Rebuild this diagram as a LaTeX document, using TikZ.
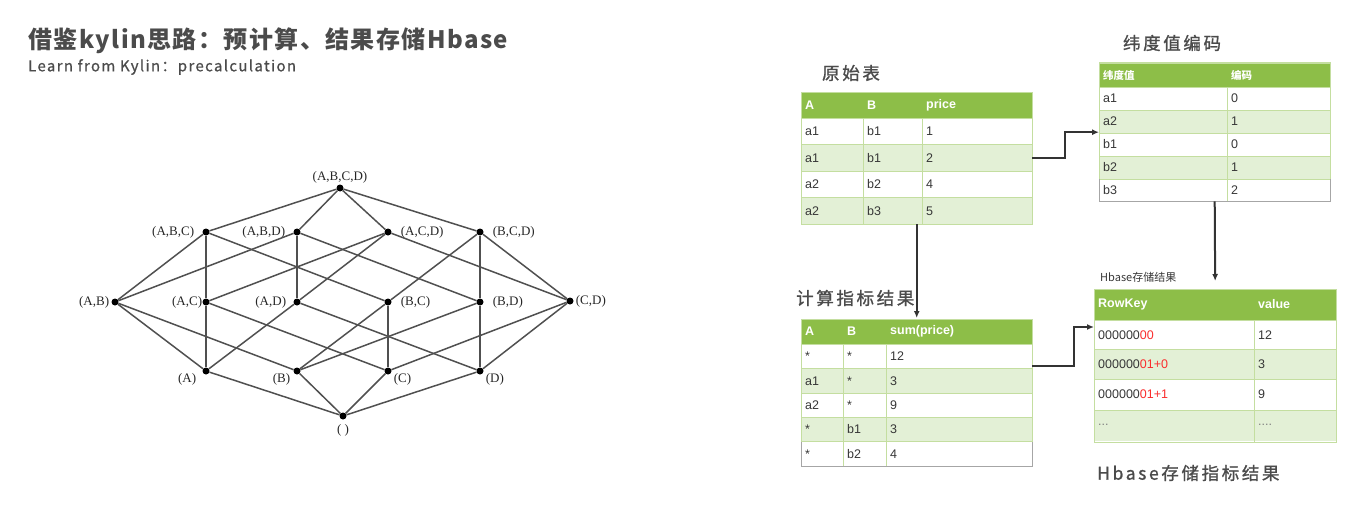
\documentclass[tikz,border=0pt]{standalone}
\usepackage{fontspec}
\setmainfont{Liberation Sans}
\newfontfamily\cjk{Noto Sans CJK SC}
\newfontfamily\latserif{Liberation Serif}
\usetikzlibrary{arrows.meta}

\definecolor{hdrgreen}{RGB}{141,190,72}
\definecolor{rowgreen}{RGB}{227,240,214}
\definecolor{gridgreen}{RGB}{196,222,160}
\definecolor{txtgray}{RGB}{55,55,55}
\definecolor{titlegray}{RGB}{75,75,75}
\definecolor{keyred}{RGB}{250,45,45}
\definecolor{edgegray}{RGB}{80,80,80}

\tikzset{
  lat/.style={circle, fill=black, inner sep=0pt, minimum size=7pt},
  latlbl/.style={font=\latserif\fontsize{13}{13}\selectfont, text=black!85, inner sep=0pt},
  latedge/.style={draw=edgegray, line width=1.5pt},
  tbl/.style={inner sep=0pt, anchor=north west},
  cell/.style={anchor=west, inner sep=0pt, font=\fontsize{12.5}{13}\selectfont, text=txtgray},
  hcell/.style={cell, text=white, font=\bfseries\fontsize{12.5}{13}\selectfont},
  grid/.style={draw=gridgreen, line width=1pt},
  flow/.style={draw=black!80, line width=2pt, -{Latex[length=7pt,width=6pt]}},
  caption/.style={font=\cjk\fontsize{17.5}{18}\selectfont\addfontfeature{LetterSpace=15,FakeBold=1.2}, text=titlegray, inner sep=0pt}
}

\begin{document}
\begin{tikzpicture}[x=1pt,y=-1pt]
\useasboundingbox (0,0) rectangle (1356,511);

%----- TITLE -----
\node[anchor=west, inner sep=0pt, text=titlegray,
  font=\cjk\bfseries\fontsize{24}{24}\selectfont\addfontfeature{LetterSpace=6}]
  (title) at (28,41) {借鉴kylin思路：预计算、结果存储Hbase};
\node[anchor=west, inner sep=0pt, text=titlegray,
  font=\cjk\fontsize{15}{15}\selectfont\addfontfeature{LetterSpace=9,FakeBold=0.8}]
  (subtitle) at (28,67) {Learn from Kylin：precalculation};

%----- CUBOID LATTICE -----
\node[lat, label={[latlbl, label distance=1pt]above:{(A,B,C,D)}}] (abcd) at (340,188) {};

\node[lat, label={[latlbl, label distance=8pt]left:{(A,B,C)}}]  (abc) at (206,232) {};
\node[lat, label={[latlbl, label distance=8pt]left:{(A,B,D)}}]  (abd) at (297,232) {};
\node[lat, label={[latlbl, label distance=9pt]right:{(A,C,D)}}] (acd) at (388,232) {};
\node[lat, label={[latlbl, label distance=9pt]right:{(B,C,D)}}] (bcd) at (480,232) {};

\node[lat, label={[latlbl, label distance=2pt]left:{(A,B)}}]  (ab) at (115,302) {};
\node[lat, label={[latlbl, label distance=0pt]left:{(A,C)}}]  (ac) at (206,302) {};
\node[lat, label={[latlbl, label distance=7pt]left:{(A,D)}}]  (ad) at (297,302) {};
\node[lat, label={[latlbl, label distance=9pt]right:{(B,C)}}] (bc) at (388,302) {};
\node[lat, label={[latlbl, label distance=9pt]right:{(B,D)}}] (bd) at (480,302) {};
\node[lat, label={[latlbl, label distance=2pt]right:{(C,D)}}] (cd) at (570,301) {};

\node[lat, label={[latlbl, xshift=-7pt]below left:{(A)}}]  (a) at (206,371) {};
\node[lat, label={[latlbl, xshift=-4pt]below left:{(B)}}]  (b) at (297,371) {};
\node[lat, label={[latlbl, xshift=3pt]below right:{(C)}}]  (c) at (388,371) {};
\node[lat, label={[latlbl, xshift=3pt]below right:{(D)}}]  (d) at (480,371) {};

\node[lat, label={[latlbl, label distance=5pt]below:{( )}}] (none) at (343,416) {};

\foreach \u/\v in {abcd/abc, abcd/abd, abcd/acd, abcd/bcd,
                   abc/ab, abc/ac, abc/bc, abd/ab, abd/ad, abd/bd,
                   acd/ac, acd/ad, acd/cd, bcd/bc, bcd/bd, bcd/cd,
                   ab/a, ab/b, ac/a, ac/c, ad/a, ad/d,
                   bc/b, bc/c, bd/b, bd/d, cd/c, cd/d,
                   a/none, b/none, c/none, d/none}
  \draw[latedge] (\u) -- (\v);

%----- RAW TABLE -----
\node[caption] (rawcap) at (851,73) {原始表};
\node[tbl, minimum width=231pt, minimum height=132pt] (raw) at (801,92) {};
\fill[hdrgreen] (801,92) rectangle (1032,118);
\node[hcell] at (805,105) {A};
\node[hcell] at (867,105) {B};
\node[hcell] at (926,105) {price};
\foreach \top/\a/\b/\c/\shade in {118/a1/b1/1/white, 144.5/a1/b1/2/rowgreen,
                                  171/a2/b2/4/white, 197.5/a2/b3/5/rowgreen} {
  \fill[\shade] (801,\top) rectangle (1032,\top+26.5);
  \node[cell] at (805,\top+13.5) {\a};
  \node[cell] at (867,\top+13.5) {\b};
  \node[cell] at (926,\top+13.5) {\c};
}
\foreach \y in {118,144.5,171,197.5} \draw[grid] (801,\y) -- (1032,\y);
\foreach \x in {863,922} \draw[grid] (\x,118) -- (\x,224);
\draw[grid] (801,92) rectangle (1032,224);

%----- DIMENSION CODE TABLE -----
\node[caption] (dimcap) at (1172,43) {纬度值编码};
\node[tbl, minimum width=231pt, minimum height=138pt] (dimcode) at (1099,63) {};
\fill[hdrgreen] (1099,63) rectangle (1330,87);
\node[hcell, font=\cjk\bfseries\fontsize{10.5}{11}\selectfont] at (1103,75) {纬度值};
\node[hcell, font=\cjk\bfseries\fontsize{10.5}{11}\selectfont] at (1231,75) {编码};
\foreach \top/\a/\b/\shade in {87/a1/0/white, 110/a2/1/rowgreen, 133/b1/0/white,
                               156/b2/1/rowgreen, 179/b3/2/white} {
  \fill[\shade] (1099,\top) rectangle (1330,\top+22.5);
  \node[cell] at (1103,\top+11.5) {\a};
  \node[cell] at (1231,\top+11.5) {\b};
}
\foreach \y in {87,110,133,156,179} \draw[grid] (1099,\y) -- (1330,\y);
\draw[grid] (1227,87) -- (1227,201.5);
\draw[grid] (1099,63) rectangle (1330,201.5);
\draw[gray!70, line width=1pt] (1099,179) -- (1099,201.5) -- (1330,201.5) -- (1330,179);

%----- AGGREGATE TABLE -----
\node[caption, anchor=west] (calccap) at (796,298) {计算指标结果};
\node[tbl, minimum width=231pt, minimum height=147pt] (calc) at (801,319) {};
\fill[hdrgreen] (801,319) rectangle (1032,344);
\node[hcell] at (805,331.5) {A};
\node[hcell] at (847,331.5) {B};
\node[hcell] at (890,331.5) {sum(price)};
\foreach \top/\a/\b/\c/\shade in {344/*/*/12/white, 368.5/a1/*/3/rowgreen,
                                  393/a2/*/9/white, 417/*/b1/3/rowgreen,
                                  441.5/*/b2/4/white} {
  \fill[\shade] (801,\top) rectangle (1032,\top+24.5);
  \node[cell] at (805,\top+12.5) {\a};
  \node[cell] at (847,\top+12.5) {\b};
  \node[cell] at (890,\top+12.5) {\c};
}
\foreach \y in {344,368.5,393,417,441.5} \draw[grid] (801,\y) -- (1032,\y);
\foreach \x in {843,886} \draw[grid] (\x,344) -- (\x,466);
\draw[grid] (801,319) rectangle (1032,466);
\draw[gray!70, line width=1pt] (801,441.5) -- (801,466) -- (1032,466) -- (1032,441.5);

%----- HBASE TABLE -----
\node[anchor=west, inner sep=0pt, text=txtgray, font=\cjk\fontsize{11}{11}\selectfont]
  (hbasesmall) at (1100,277) {Hbase存储结果};
\node[tbl, minimum width=242pt, minimum height=153pt] (hbase) at (1094,289) {};
\fill[hdrgreen] (1094,289) rectangle (1336,320);
\node[hcell] at (1098,304.5) {RowKey};
\node[hcell] at (1258,304.5) {value};
\foreach \top/\k/\v/\shade in {320/{000000\textcolor{keyred}{00}}/12/white,
                               349.5/{000000\textcolor{keyred}{01+0}}/3/rowgreen,
                               379.5/{000000\textcolor{keyred}{01+1}}/9/white,
                               410/{\textcolor{gray}{...}}/{\textcolor{gray}{....}}/rowgreen} {
  \fill[\shade] (1094,\top) rectangle (1336,\top+31);
  \node[cell] at (1098,\top+15) {\k};
  \node[cell] at (1258,\top+15) {\v};
}
\foreach \y in {320,349.5,379.5,410} \draw[grid] (1094,\y) -- (1336,\y);
\draw[grid] (1254,320) -- (1254,442);
\draw[grid] (1094,289) rectangle (1336,442);
\node[caption, anchor=west] (hbasecap) at (1097,473) {Hbase存储指标结果};

%----- FLOW ARROWS -----
\coordinate (hbasein) at (1094,327);
\draw[flow] (raw.east) -- ++(33,0) |- (dimcode.west);
\draw[flow] (raw.south) -- ([yshift=1pt]calc.north);
\draw[flow, shorten >=8pt] (dimcode.south) -- (hbase.north);
\draw[flow] (calc.east |- hbase.west) -- ++(42,0) |- (hbasein);

\end{tikzpicture}
\end{document}
